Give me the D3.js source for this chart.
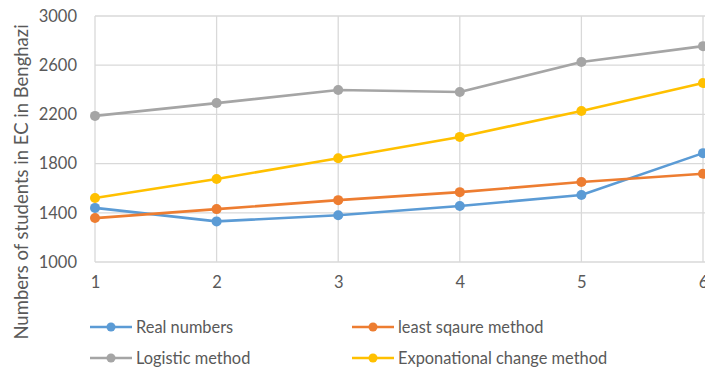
<!DOCTYPE html>
<html>
<head>
<meta charset="utf-8">
<script src="https://cdn.jsdelivr.net/npm/d3@7"></script>
<style>
  html, body { margin: 0; padding: 0; background: #fff; }
  svg { display: block; }
  text { font-family: Lato, "Open Sans", sans-serif; fill: #595959; }
</style>
</head>
<body>
<svg id="chart" width="705" height="374"></svg>
<script>
// Years 1..6 and the student counts per estimation method
const years = [1, 2, 3, 4, 5, 6];
const realNumbers = [1440, 1330, 1380, 1455, 1545, 1885];
const leastSquare = [1357, 1430, 1503, 1568, 1650, 1717];
const logistic = [2188, 2292, 2398, 2382, 2626, 2755];
const exponential = [1520, 1675, 1843, 2017, 2228, 2455];
const yTicks = [1000, 1400, 1800, 2200, 2600, 3000];
const yLabel = "Numbers of students in EC in Benghazi";

const series = [
  { name: "Real numbers", values: realNumbers, color: "#5b9bd5" },
  { name: "least sqaure method", values: leastSquare, color: "#ed7d31" },
  { name: "Logistic method", values: logistic, color: "#a5a5a5" },
  { name: "Exponational change method", values: exponential, color: "#ffc000" }
];

const svg = d3.select("#chart");
const plot = { left: 95, right: 703, top: 16, bottom: 262 };

const x = d3.scaleLinear().domain([1, 6]).range([plot.left, plot.right]);
const y = d3.scaleLinear().domain([1000, 3000]).range([plot.bottom, plot.top]);

// Gridlines
const grid = svg.append("g");
grid.selectAll("line.h").data(yTicks).join("line")
  .attr("class", "h")
  .attr("x1", plot.left).attr("x2", 705)
  .attr("y1", d => y(d)).attr("y2", d => y(d))
  .attr("stroke", "#d9d9d9").attr("stroke-width", 1.3);
grid.selectAll("line.v").data(years).join("line")
  .attr("class", "v")
  .attr("x1", d => x(d)).attr("x2", d => x(d))
  .attr("y1", plot.top).attr("y2", plot.bottom)
  .attr("stroke", "#d9d9d9").attr("stroke-width", 1.3);

// Axes
const yAxis = svg.append("g").attr("transform", `translate(${plot.left - 18},0)`)
  .call(d3.axisLeft(y).tickValues(yTicks).tickSize(0).tickPadding(0).tickFormat(d3.format("d")));
yAxis.select(".domain").remove();
yAxis.selectAll("text").style("font-size", "16.5px").attr("fill", "#595959")
  .style("font-family", "Lato, 'Open Sans', sans-serif");

const xAxis = svg.append("g").attr("transform", `translate(0,${plot.bottom + 14})`)
  .call(d3.axisBottom(x).tickValues(years).tickSize(0).tickPadding(0).tickFormat(d3.format("d")));
xAxis.select(".domain").remove();
xAxis.selectAll("text").style("font-size", "16.5px").attr("fill", "#595959")
  .style("font-family", "Lato, 'Open Sans', sans-serif");

// Axis title
svg.append("text")
  .attr("transform", "translate(28,182) rotate(-90)")
  .attr("text-anchor", "middle")
  .style("font-size", "18.5px")
  .text(yLabel);

// Series lines and markers
const line = d3.line().x((d, i) => x(years[i])).y(d => y(d));
series.forEach(s => {
  const g = svg.append("g");
  g.append("path").datum(s.values)
    .attr("d", line).attr("fill", "none")
    .attr("stroke", s.color).attr("stroke-width", 2.6)
    .attr("stroke-linejoin", "round");
  g.selectAll("circle").data(s.values).join("circle")
    .attr("cx", (d, i) => x(years[i])).attr("cy", d => y(d))
    .attr("r", 5).attr("fill", s.color);
});

// Legend
const legendPos = [[90, 327], [352, 327], [90, 358], [352, 358]];
series.forEach((s, i) => {
  const [lx, ly] = legendPos[i];
  const g = svg.append("g").attr("transform", `translate(${lx},${ly})`);
  g.append("line").attr("x1", 0).attr("x2", 42).attr("y1", 0).attr("y2", 0)
    .attr("stroke", s.color).attr("stroke-width", 2.6);
  g.append("circle").attr("cx", 21).attr("cy", 0).attr("r", 4.5).attr("fill", s.color);
  g.append("text").attr("x", 46).attr("y", 6)
    .style("font-size", "16.4px").text(s.name);
});
</script>
</body>
</html>
